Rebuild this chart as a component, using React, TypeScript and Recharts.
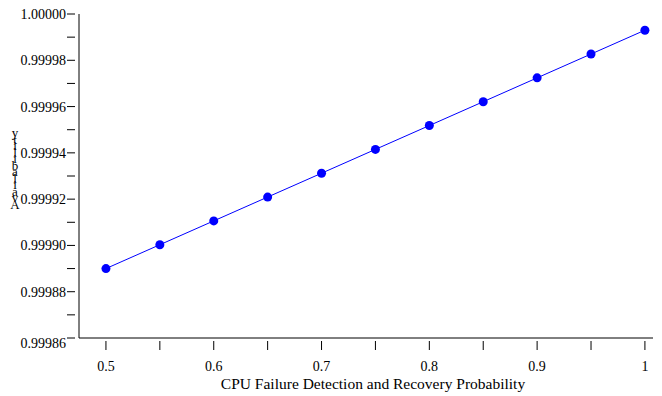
import React from "react";
import { LineChart, Line, XAxis, YAxis, Label } from "recharts";

const probability = [0.5, 0.55, 0.6, 0.65, 0.7, 0.75, 0.8, 0.85, 0.9, 0.95, 1.0];
const availability = [
  0.99989, 0.9999003, 0.9999106, 0.9999209, 0.9999312, 0.9999415, 0.9999518,
  0.9999621, 0.9999724, 0.9999827, 0.999993,
];
const xTicks = [0.5, 0.55, 0.6, 0.65, 0.7, 0.75, 0.8, 0.85, 0.9, 0.95, 1.0];
const xLabelTicks = [0.5, 0.6, 0.7, 0.8, 0.9, 1.0];
const yTicks = [
  0.99986, 0.99987, 0.99988, 0.99989, 0.9999, 0.99991, 0.99992, 0.99993, 0.99994,
  0.99995, 0.99996, 0.99997, 0.99998, 0.99999, 1.0,
];
const yLabelTicks = [0.99986, 0.99988, 0.9999, 0.99992, 0.99994, 0.99996, 0.99998, 1.0];
const xTitle = "CPU Failure Detection and Recovery Probability";
const yTitle = "Availability";

const data = probability.map((p, i) => ({ p, a: availability[i] }));

const FONT = "'Liberation Serif', 'Times New Roman', serif";

const near = (list: number[], v: number) => list.some((t) => Math.abs(t - v) < 1e-7);

const XTick = (props: any) => {
  const { x, y, payload } = props;
  const v = payload.value;
  const major = near(xLabelTicks, v);
  return (
    <g>
      <line x1={x} x2={x} y1={y - 5} y2={y + 4} stroke="#000" strokeWidth={1} />
      {major && (
        <text x={x} y={y + 25} textAnchor="middle" fontFamily={FONT} fontSize={14} fill="#000">
          {Math.abs(v - 1) < 1e-9 ? "1" : v.toFixed(1)}
        </text>
      )}
    </g>
  );
};

const YTick = (props: any) => {
  const { x, y, payload } = props;
  const v = payload.value;
  const major = near(yLabelTicks, v);
  const isBottom = Math.abs(v - yTicks[0]) < 1e-9;
  return (
    <g>
      <line x1={x - 4} x2={x + 4} y1={y} y2={y} stroke="#000" strokeWidth={1} />
      {major && (
        <text
          x={x - 5}
          y={y + (isBottom ? 10 : 5)}
          textAnchor="end"
          fontFamily={FONT}
          fontSize={14}
          fill="#000"
        >
          {v.toFixed(5)}
        </text>
      )}
    </g>
  );
};

const StackedLabel = () => {
  const letters = yTitle.split("").reverse();
  return (
    <text x={15} y={137} textAnchor="middle" fontFamily={FONT} fontSize={13} fill="#000">
      {letters.map((ch, i) => (
        <tspan key={i} x={15} dy={i === 0 ? 0 : 6.5}>
          {ch}
        </tspan>
      ))}
    </text>
  );
};

const XTitle = () => (
  <text x={373} y={389} textAnchor="middle" fontFamily={FONT} fontSize={15.5} fill="#000">
    {xTitle}
  </text>
);

export default function App() {
  return (
    <div style={{ position: "absolute", left: 0, top: 0, width: 662, height: 396, background: "#fff" }}>
      <LineChart
        width={662}
        height={396}
        data={data}
        margin={{ top: 14, right: 9, bottom: 0, left: 0 }}
      >
        <XAxis
          dataKey="p"
          type="number"
          height={58}
          domain={[0.475, 1.0075]}
          ticks={xTicks}
          interval={0}
          tick={<XTick />}
          tickLine={false}
          axisLine={{ stroke: "#000", strokeWidth: 1 }}
          allowDataOverflow
        >
          <Label content={<XTitle />} />
        </XAxis>
        <YAxis
          dataKey="a"
          type="number"
          width={79}
          domain={[0.99986, 1.0]}
          ticks={yTicks}
          interval={0}
          tick={<YTick />}
          tickLine={false}
          axisLine={{ stroke: "#000", strokeWidth: 1 }}
          allowDataOverflow
        >
          <Label content={<StackedLabel />} />
        </YAxis>
        <Line
          dataKey="a"
          stroke="#0000ff"
          strokeWidth={1}
          dot={{ r: 4.5, fill: "#0000ff", stroke: "#0000ff", strokeWidth: 0 }}
          isAnimationActive={false}
        />
      </LineChart>
    </div>
  );
}
